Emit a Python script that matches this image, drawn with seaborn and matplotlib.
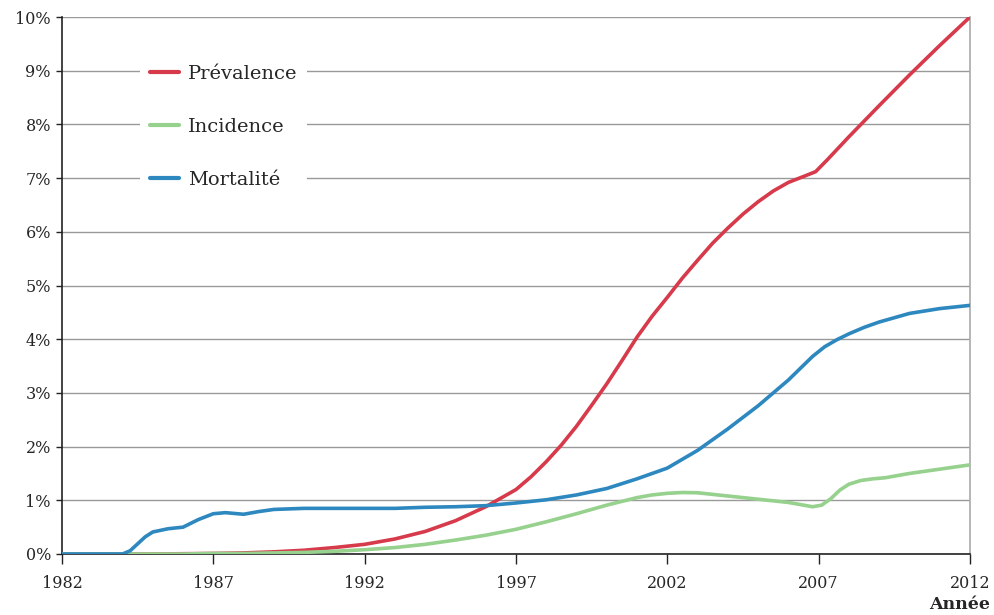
import pandas as pd
import seaborn as sns
import matplotlib.pyplot as plt
import matplotlib.ticker as mticker

# values (percent)
prev_years = [1982, 1983, 1984, 1985, 1986, 1987, 1988, 1989, 1990, 1991, 1992,
              1993, 1994, 1995, 1996, 1997, 1997.5, 1998, 1998.5, 1999, 1999.5,
              2000, 2000.5, 2001, 2001.5, 2002, 2002.5, 2003, 2003.5, 2004, 2004.5,
              2005, 2005.5, 2006, 2006.5, 2006.9, 2007.3, 2008, 2009, 2010, 2011, 2012]
prevalence = [0, 0, 0, 0, 0.005, 0.01, 0.02, 0.04, 0.07, 0.12, 0.18,
              0.28, 0.42, 0.62, 0.88, 1.2, 1.44, 1.72, 2.03, 2.38, 2.77,
              3.17, 3.6, 4.04, 4.43, 4.78, 5.14, 5.47, 5.79, 6.07, 6.33,
              6.56, 6.76, 6.92, 7.03, 7.12, 7.35, 7.77, 8.35, 8.92, 9.47, 10.0]

inc_years = [1982, 1983, 1984, 1985, 1986, 1987, 1988, 1989, 1990, 1991, 1992,
             1993, 1994, 1995, 1996, 1997, 1998, 1999, 2000, 2001, 2001.5, 2002,
             2002.5, 2003, 2004, 2005, 2006, 2006.5, 2006.8, 2007.1, 2007.4, 2007.7,
             2008, 2008.4, 2008.8, 2009.2, 2010, 2011, 2012]
incidence = [0, 0, 0, 0, 0, 0.01, 0.01, 0.02, 0.03, 0.05, 0.08,
             0.12, 0.18, 0.26, 0.35, 0.46, 0.6, 0.75, 0.91, 1.05, 1.1, 1.13,
             1.145, 1.14, 1.08, 1.02, 0.96, 0.91, 0.88, 0.91, 1.03, 1.19,
             1.3, 1.37, 1.4, 1.42, 1.5, 1.58, 1.66]

mort_years = [1982, 1983, 1984, 1984.25, 1984.5, 1984.75, 1985, 1985.5, 1986, 1986.5,
              1987, 1987.4, 1988, 1988.5, 1989, 1990, 1991, 1992, 1993, 1994,
              1995, 1996, 1997, 1998, 1999, 2000, 2001, 2002, 2003, 2004,
              2005, 2006, 2006.8, 2007.2, 2007.6, 2008, 2008.5, 2009, 2010, 2011, 2012]
mortalite = [0, 0, 0, 0.06, 0.19, 0.32, 0.41, 0.47, 0.5, 0.64,
             0.75, 0.77, 0.74, 0.79, 0.83, 0.85, 0.85, 0.85, 0.85, 0.87,
             0.88, 0.9, 0.95, 1.01, 1.1, 1.22, 1.4, 1.6, 1.93, 2.33,
             2.76, 3.24, 3.68, 3.86, 3.99, 4.1, 4.22, 4.32, 4.48, 4.57, 4.63]

series_names = ['Prévalence', 'Incidence', 'Mortalité']
colors = ['#D63A4B', '#96D18D', '#2E88C0']

df = pd.concat([
    pd.DataFrame({'Année': prev_years, 'valeur': prevalence, 'série': 'Prévalence'}),
    pd.DataFrame({'Année': inc_years, 'valeur': incidence, 'série': 'Incidence'}),
    pd.DataFrame({'Année': mort_years, 'valeur': mortalite, 'série': 'Mortalité'}),
])

sns.set_theme(style='white')
plt.rcParams['font.family'] = ['DejaVu Serif']

fig = plt.figure(figsize=(9.94, 6.15), dpi=100)
ax = fig.add_axes([62 / 994, 1 - 554 / 615, 908 / 994, 537 / 615])

sns.lineplot(data=df, x='Année', y='valeur', hue='série', hue_order=series_names,
             palette=colors, linewidth=2.6, estimator=None, ax=ax, zorder=3)

ax.set_xlim(1982, 2012)
ax.set_ylim(0, 10)
ax.set_xticks(range(1982, 2013, 5))
ax.set_yticks(range(0, 11))
ax.yaxis.set_major_formatter(mticker.FuncFormatter(lambda v, p: f'{int(v)}%'))
ax.set_xlabel('')
ax.set_ylabel('')

ax.grid(axis='y', color='#999999', linewidth=1)
ax.set_axisbelow(True)
for side in ['left', 'bottom']:
    ax.spines[side].set_color('#222222')
    ax.spines[side].set_linewidth(1.2)
ax.spines['right'].set_color('#aaaaaa')
ax.spines['right'].set_linewidth(1.2)
ax.spines['top'].set_visible(False)

ax.tick_params(axis='x', direction='out', length=7, width=1, color='#222222',
               bottom=True, labelsize=11.5, pad=8)
ax.tick_params(axis='y', direction='out', length=4, width=1, color='#222222',
               left=True, labelsize=11.5, pad=4)

leg = ax.legend(loc='center left', bbox_to_anchor=(0.086, 0.795), frameon=True,
                facecolor='white', edgecolor='none', framealpha=1,
                fontsize=14, handlelength=1.5, handletextpad=0.45,
                labelspacing=1.8, borderpad=0.5, borderaxespad=0)
for line in leg.get_lines():
    line.set_linewidth(3)

fig.text(0.996, 0.004, 'Année', ha='right', va='bottom', fontsize=12.5,
         fontweight='bold')

fig.savefig('out.png', dpi=100)
